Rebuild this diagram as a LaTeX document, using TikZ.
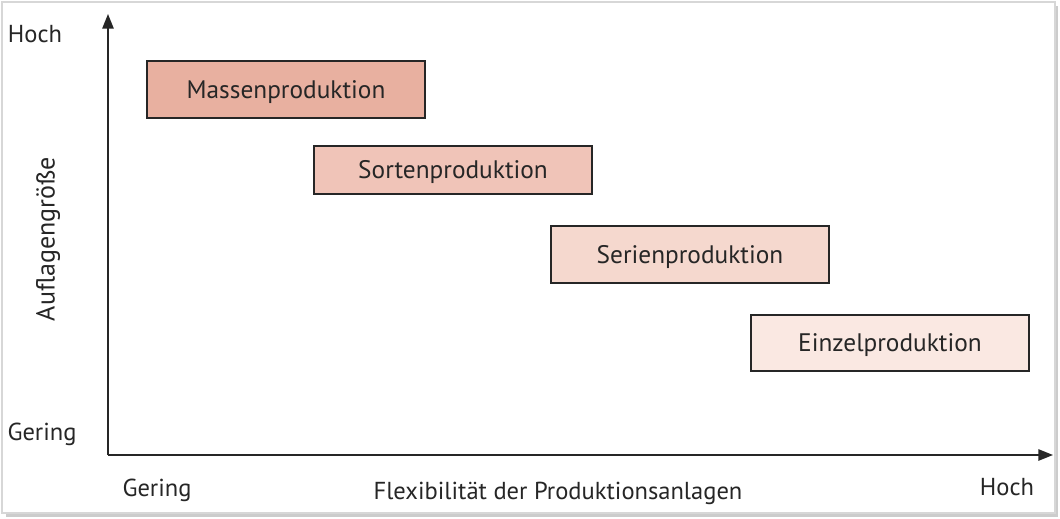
\documentclass[tikz,border=0pt]{standalone}
\usepackage{fontspec}
\setmainfont{PT Sans}
\usetikzlibrary{arrows.meta}
\definecolor{cMassen}{RGB}{232,176,160}
\definecolor{cSorten}{RGB}{240,196,184}
\definecolor{cSerien}{RGB}{245,216,206}
\definecolor{cEinzel}{RGB}{250,232,226}
\definecolor{frameg}{RGB}{215,215,215}
\definecolor{shadowg}{RGB}{170,170,170}
\tikzset{
  pbox/.style={draw=black!85, line width=1.2pt, minimum width={278*0.75pt}, minimum height={56*0.75pt}, inner sep=0pt, text height=17.5pt, text depth=4.2pt, font=\fontsize{19}{21}\selectfont, text=black!85},
  lbl/.style={font=\fontsize{18.4}{20}\selectfont, text=black!85, inner sep=0pt},
  axis/.style={line width=1.3pt, black!85, -{Triangle[length=11pt,width=8.5pt]}}
}
\begin{document}
\begin{tikzpicture}[x=0.75pt,y=-0.75pt]
\useasboundingbox (0,0) rectangle (1060,518);
\fill[white] (0,0) rectangle (1060,518);
% shadow and frame
\fill[shadowg!60] (6,6) rectangle (1058,517);
\fill[white,draw=frameg,line width=0.8pt] (2,2) rectangle (1055,513);
% axes
\coordinate (O) at (108,455);
\coordinate (ytip) at (108,14);
\coordinate (xtip) at (1053,455);
\draw[axis] (O) -- (ytip);
\draw[axis] (O) -- (xtip);
% boxes
\node[pbox, fill=cMassen, minimum height={57*0.75pt}] (massen) at (286,89.5) {Massenproduktion};
\node[pbox, fill=cSorten, minimum height={48*0.75pt}] (sorten) at (453,170) {Sortenproduktion};
\node[pbox, fill=cSerien, minimum height={57*0.75pt}] (serien) at (690,254.5) {Serienproduktion};
\node[pbox, fill=cEinzel, minimum height={56*0.75pt}] (einzel) at (890,343) {Einzelproduktion};
% labels
\node[lbl] (yhoch) at (35,34) {Hoch};
\node[lbl] (ygering) at (42,434) {Gering};
\node[lbl, rotate=90, font=\fontsize{19.5}{21}\selectfont] (ylabel) at (48,239) {Auflagengröße};
\node[lbl] (xgering) at (157,490) {Gering};
\node[lbl] (xlabel) at (558,493) {Flexibilität der Produktionsanlagen};
\node[lbl] (xhoch) at (1007,487) {Hoch};
\end{tikzpicture}
\end{document}
